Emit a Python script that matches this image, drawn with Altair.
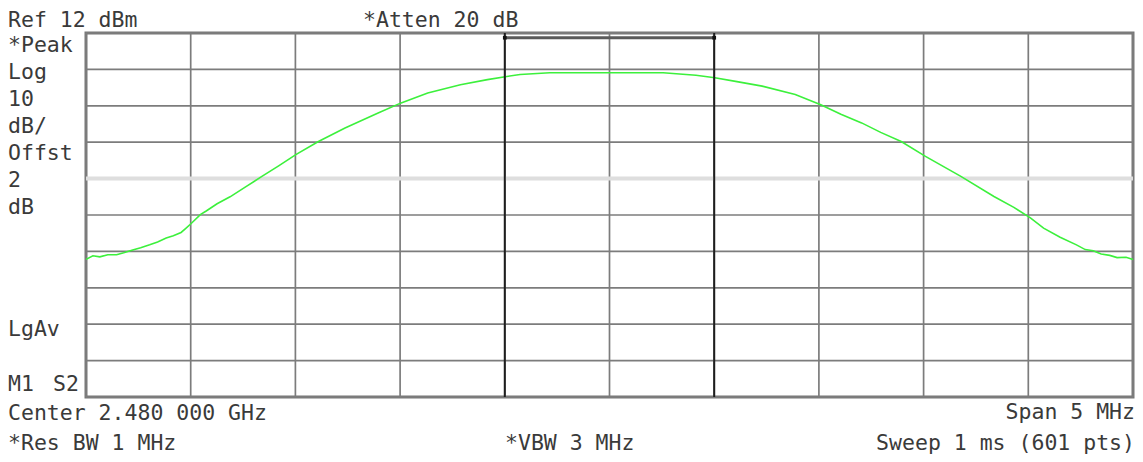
import altair as alt
import pandas as pd

# ---- instrument settings (from the screen annotations) ----
center_mhz = 2480.0
ref_level_dbm = 12
display_line_dbm = -28
marker_band_mhz = [2479.5, 2480.5]
band_bar_level = 10.7

# graticule (10 x 10 divisions)
grid_freq = [2477.5, 2478.0, 2478.5, 2479.0, 2479.5, 2480.0,
             2480.5, 2481.0, 2481.5, 2482.0, 2482.5]
grid_level = [12, 2, -8, -18, -28, -38, -48, -58, -68, -78, -88]

# ---- trace: offset from center (MHz), level (dBm) ----
offset_mhz = [-2.500, -2.467, -2.434, -2.396, -2.354, -2.320, -2.277, -2.239,
              -2.196, -2.158, -2.117, -2.083, -2.046, -2.026, -1.999, -1.954,
              -1.926, -1.874, -1.812, -1.736, -1.660, -1.580, -1.498, -1.390,
              -1.263, -1.105, -0.995, -0.868, -0.712, -0.583, -0.498, -0.427,
              -0.285, 0.005, 0.256, 0.413, 0.503, 0.602, 0.729, 0.887,
              1.009, 1.105, 1.204, 1.295, 1.393, 1.509, 1.678, 1.836,
              1.931, 2.010, 2.073, 2.152, 2.230, 2.272, 2.310, 2.348,
              2.389, 2.424, 2.467, 2.500]
level_dbm = [-50.2, -49.2, -49.5, -48.9, -48.9, -48.4, -47.6, -47.0,
             -46.2, -45.4, -44.3, -43.7, -42.8, -41.8, -40.4, -37.9,
             -36.9, -34.9, -33.0, -30.2, -27.4, -24.5, -21.4, -17.8,
             -14.1, -10.0, -7.2, -4.5, -2.2, -0.8, 0.0, 0.6,
             1.1, 1.1, 1.1, 0.4, -0.3, -1.3, -2.6, -4.9,
             -7.7, -10.3, -12.7, -15.3, -17.8, -21.9, -27.4, -32.9,
             -35.9, -38.8, -41.6, -44.1, -46.2, -47.5, -47.8, -48.7,
             -49.1, -49.7, -49.6, -50.2]

trace_df = pd.DataFrame({"freq": [center_mhz + o for o in offset_mhz],
                         "level": level_dbm})

xs = alt.Scale(domain=[grid_freq[0], grid_freq[-1]], nice=False, zero=False)
ys = alt.Scale(domain=[grid_level[-1], grid_level[0]], nice=False, zero=False)

grid_color = "#7c7c7c"

vgrid = alt.Chart(pd.DataFrame({"freq": grid_freq})).mark_rule(
    color=grid_color, strokeWidth=1.7).encode(
    x=alt.X("freq:Q", scale=xs, axis=None))

hgrid = alt.Chart(pd.DataFrame({"level": grid_level})).mark_rule(
    color=grid_color, strokeWidth=1.7).encode(
    y=alt.Y("level:Q", scale=ys, axis=None))

dline = alt.Chart(pd.DataFrame({"level": [display_line_dbm]})).mark_rule(
    color="#dedede", strokeWidth=4).encode(
    y=alt.Y("level:Q", scale=ys, axis=None))

trace = alt.Chart(trace_df).mark_line(color="#3cf03c", strokeWidth=1.6).encode(
    x=alt.X("freq:Q", scale=xs, axis=None),
    y=alt.Y("level:Q", scale=ys, axis=None),
)

markers = alt.Chart(pd.DataFrame({"freq": marker_band_mhz})).mark_rule(
    color="#1e1e1e", strokeWidth=2).encode(
    x=alt.X("freq:Q", scale=xs, axis=None))

band = alt.Chart(pd.DataFrame({"f1": [marker_band_mhz[0]], "f2": [marker_band_mhz[1]],
                               "lvl": [band_bar_level]})).mark_rule(
    color="#5a5a5a", strokeWidth=3).encode(
    x=alt.X("f1:Q", scale=xs, axis=None), x2="f2:Q",
    y=alt.Y("lvl:Q", scale=ys, axis=None))

band_ends = alt.Chart(pd.DataFrame({"freq": marker_band_mhz,
                                    "lvl": [band_bar_level] * 2})).mark_square(
    color="#111111", size=14, opacity=1).encode(
    x=alt.X("freq:Q", scale=xs, axis=None),
    y=alt.Y("lvl:Q", scale=ys, axis=None))

FONT = "DejaVu Sans Mono"
FS = 21.5
TCOL = "#3a3a3a"


def label(txt, x, y, align="left"):
    return alt.Chart(pd.DataFrame({"t": [txt]})).mark_text(
        font=FONT, fontSize=FS, color=TCOL, align=align, baseline="alphabetic"
    ).encode(x=alt.value(x), y=alt.value(y), text="t:N")


labels = [
    label("Ref 12 dBm", -78, -6),
    label("*Atten 20 dB", 277, -6),
    label("*Peak", -78, 19),
    label("Log", -78, 46),
    label("10", -78, 73),
    label("dB/", -78, 100),
    label("Offst", -78, 127),
    label("2", -78, 154),
    label("dB", -78, 181),
    label("LgAv", -78, 303),
    label("M1", -78, 358),
    label("S2", -33, 358),
    label("Center 2.480 000 GHz", -78, 387),
    label("Span 5 MHz", 1049, 386, "right"),
    label("*Res BW 1 MHz", -78, 417),
    label("*VBW 3 MHz", 419, 417),
    label("Sweep 1 ms (601 pts)", 1049, 417, "right"),
]

chart = alt.layer(vgrid, hgrid, dline, trace, markers, band, band_ends,
                  *labels).properties(
    width=1047, height=364,
    autosize=alt.AutoSizeParams(type="none"),
    padding={"left": 78, "top": 25, "right": 2, "bottom": 57},
    background="white",
).configure_view(stroke="#777777", strokeWidth=3)

chart.save("out.html", embed_options={"renderer": "svg", "actions": False})
